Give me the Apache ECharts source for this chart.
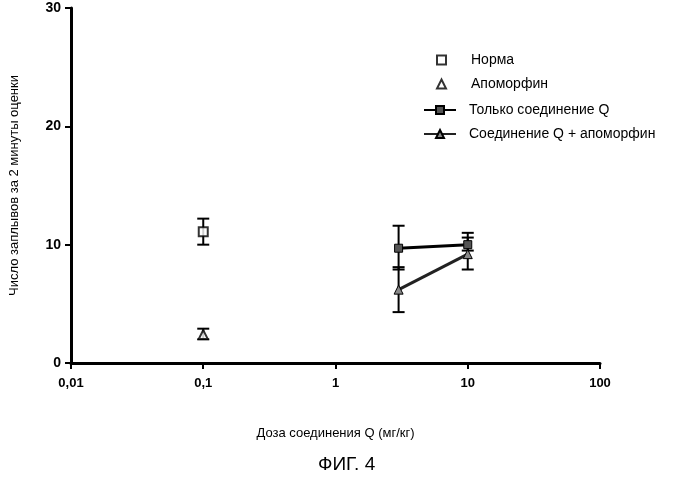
<!DOCTYPE html><html><head><meta charset="utf-8"><script src="https://cdn.jsdelivr.net/npm/echarts@6/dist/echarts.min.js"></script></head><body style="margin:0"><div id="c" style="width:699px;height:479px"></div><script>
const normaX=[0.1], normaY=[11.1], normaLo=[10.0], normaHi=[12.2];
const apoX=[0.1], apoY=[2.4], apoLo=[2.0], apoHi=[2.9];
const qX=[3,10], qY=[9.7,10.0], qLo=[7.9,9.5], qHi=[11.6,11.0];
const qaX=[3,10], qaY=[6.2,9.2], qaLo=[4.3,7.9], qaHi=[8.1,10.6];
const xTicks={0.01:'0,01',0.1:'0,1',1:'1',10:'10',100:'100'};
const names=['Норма','Апоморфин','Только соединение Q','Соединение Q + апоморфин'];
const pts=(x,y)=>x.map((v,i)=>[v,y[i]]);
const errData=[];
[[normaX,normaLo,normaHi],[apoX,apoLo,apoHi],[qX,qLo,qHi],[qaX,qaLo,qaHi]].forEach(([x,l,h])=>x.forEach((v,i)=>errData.push([v,l[i],h[i]])));
const chart=echarts.init(document.getElementById('c'));
chart.setOption({
 animation:false,backgroundColor:'#fff',
 textStyle:{fontFamily:'Liberation Sans, Arial',color:'#000'},
 grid:{left:65,right:99,top:8,bottom:116},
 title:{text:'ФИГ. 4',left:313,top:450,textStyle:{fontSize:19,fontWeight:'normal',color:'#000',fontFamily:'Liberation Sans'}},
 legend:[
  {orient:'vertical',left:431,top:48,itemGap:10,itemWidth:9,itemHeight:9,textStyle:{fontSize:14,color:'#000',padding:[0,0,0,20]},data:names.slice(0,2)},
  {orient:'vertical',left:418,top:98,itemGap:10,itemWidth:32,itemHeight:10,textStyle:{fontSize:14,color:'#000',padding:[0,0,0,8]},data:names.slice(2)}],
 xAxis:{type:'log',min:0.01,max:100,logBase:10,name:'Доза соединения Q (мг/кг)',nameLocation:'middle',nameGap:64,nameTextStyle:{fontSize:13,color:'#000'},
  axisLine:{lineStyle:{color:'#000',width:3}},axisTick:{inside:false,length:6,lineStyle:{color:'#000',width:2}},minorTick:{show:false},
  axisLabel:{fontSize:13,fontWeight:'bold',color:'#000',margin:14,formatter:v=>xTicks[+v.toPrecision(3)]??''},splitLine:{show:false}},
 yAxis:{type:'value',min:0,max:30,interval:10,name:'Число заплывов за 2 минуты оценки',nameLocation:'middle',nameGap:50,nameTextStyle:{fontSize:13,color:'#000'},
  axisLine:{show:true,lineStyle:{color:'#000',width:3}},axisTick:{show:true,length:6,lineStyle:{color:'#000',width:2}},
  axisLabel:{fontSize:14,fontWeight:'bold',color:'#000',margin:10},splitLine:{show:false}},
 series:[
  {name:names[0],type:'scatter',data:pts(normaX,normaY),symbol:'rect',symbolSize:9,itemStyle:{color:'#fff',borderColor:'#000',borderWidth:2}},
  {name:names[1],type:'scatter',data:pts(apoX,apoY),symbol:'triangle',symbolSize:9,itemStyle:{color:'#fff',borderColor:'#000',borderWidth:2}},
  {name:names[2],type:'line',data:pts(qX,qY),symbol:'rect',symbolSize:8,lineStyle:{color:'#000',width:3},itemStyle:{color:'#555',borderColor:'#000',borderWidth:1}},
  {name:names[3],type:'line',data:pts(qaX,qaY),symbol:'triangle',symbolSize:9,lineStyle:{color:'#222',width:3},itemStyle:{color:'#888',borderColor:'#000',borderWidth:1}},
  {type:'custom',data:errData,z:1,renderItem:(p,api)=>{
    const lo=api.coord([api.value(0),api.value(1)]),hi=api.coord([api.value(0),api.value(2)]);const w=6;
    const s={stroke:'#000',lineWidth:2};
    return {type:'group',children:[
     {type:'line',shape:{x1:lo[0],y1:lo[1],x2:hi[0],y2:hi[1]},style:s},
     {type:'line',shape:{x1:lo[0]-w,y1:lo[1],x2:lo[0]+w,y2:lo[1]},style:s},
     {type:'line',shape:{x1:hi[0]-w,y1:hi[1],x2:hi[0]+w,y2:hi[1]},style:s}]};
  }}
 ]
});
</script></body></html>
